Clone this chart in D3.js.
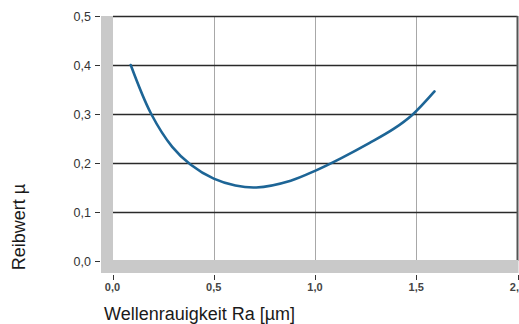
<!DOCTYPE html>
<html>
<head>
<meta charset="utf-8">
<script src="https://cdn.jsdelivr.net/npm/d3@7"></script>
<style>
  html, body { margin: 0; padding: 0; background: #fff; }
  svg { display: block; }
  text { font-family: "Liberation Sans", Arial, sans-serif; }
</style>
</head>
<body>
<script>
// Friction coefficient versus shaft roughness
const roughness = [0.09, 0.19, 0.295, 0.385, 0.5, 0.607, 0.71, 0.88, 1.0, 1.13, 1.27, 1.39, 1.48, 1.59];
const friction  = [0.40, 0.301, 0.233, 0.197, 0.168, 0.154, 0.150, 0.164, 0.184, 0.210, 0.241, 0.270, 0.298, 0.346];
const xTicks = [0, 0.5, 1.0, 1.5, 2.0];
const yTicks = [0, 0.1, 0.2, 0.3, 0.4, 0.5];
const xTitle = "Wellenrauigkeit Ra [µm]";
const yTitle = "Reibwert µ";

const W = 519, H = 324;
const svg = d3.select("body").append("svg").attr("width", W).attr("height", H);

const x = d3.scaleLinear().domain([0, 2]).range([112.5, 517.5]);
const y = d3.scaleLinear().domain([0, 0.5]).range([261, 16]);
const fmt = d => d3.format(".1f")(d).replace(".", ",");

const left = 101, bottom = 273, barW = 12, barH = 13;

// vertical grid lines
svg.append("g").selectAll("line").data(xTicks.filter(d => d > 0 && d < 2)).join("line")
  .attr("x1", d => Math.round(x(d)) + 0.5).attr("x2", d => Math.round(x(d)) + 0.5)
  .attr("y1", y(0.5)).attr("y2", y(0))
  .attr("stroke", "#a8a8a8").attr("stroke-width", 1);

// horizontal grid lines
svg.append("g").selectAll("line").data(yTicks.filter(d => d > 0)).join("line")
  .attr("x1", left + barW).attr("x2", x(2))
  .attr("y1", d => Math.round(y(d)) + 0.5).attr("y2", d => Math.round(y(d)) + 0.5)
  .attr("stroke", "#2a2a2a").attr("stroke-width", 1.3);

// right frame
svg.append("line")
  .attr("x1", x(2)).attr("x2", x(2))
  .attr("y1", y(0.5)).attr("y2", y(0))
  .attr("stroke", "#555").attr("stroke-width", 2);

// grey floor and wall
svg.append("rect").attr("x", left).attr("y", y(0.5)).attr("width", barW).attr("height", bottom - y(0.5))
  .attr("fill", "#c9c9c9");
svg.append("rect").attr("x", left).attr("y", bottom - barH).attr("width", x(2) - left + 1).attr("height", barH)
  .attr("fill", "#c9c9c9");

// y axis ticks and labels
const yg = svg.append("g");
yg.selectAll("line").data(yTicks).join("line")
  .attr("x1", 95).attr("x2", 100)
  .attr("y1", d => Math.round(y(d)) + 0.5).attr("y2", d => Math.round(y(d)) + 0.5)
  .attr("stroke", "#333").attr("stroke-width", 1);
yg.selectAll("text").data(yTicks).join("text")
  .attr("x", 91).attr("y", d => y(d) + 4.5)
  .attr("text-anchor", "end").attr("font-size", 12.5).attr("fill", "#333")
  .text(fmt);

// x axis ticks and labels
const xg = svg.append("g");
xg.selectAll("line").data(xTicks).join("line")
  .attr("x1", d => Math.round(x(d)) + 0.5).attr("x2", d => Math.round(x(d)) + 0.5)
  .attr("y1", 275).attr("y2", 280)
  .attr("stroke", "#333").attr("stroke-width", 1);
xg.selectAll("text").data(xTicks).join("text")
  .attr("x", d => x(d)).attr("y", 291)
  .attr("text-anchor", "middle").attr("font-size", 11).attr("font-weight", "bold").attr("fill", "#444")
  .text(fmt);

// axis titles
svg.append("text")
  .attr("x", 104).attr("y", 320)
  .attr("font-size", 18).attr("fill", "#1a1a1a")
  .text(xTitle);
svg.append("text")
  .attr("transform", "translate(25,227) rotate(-90)")
  .attr("text-anchor", "middle")
  .attr("font-size", 18).attr("fill", "#1a1a1a")
  .text(yTitle);

// friction curve
const pts = roughness.map((r, i) => [r, friction[i]]);
const line = d3.line().x(d => x(d[0])).y(d => y(d[1])).curve(d3.curveCatmullRom.alpha(0.5));
svg.append("path").datum(pts)
  .attr("d", line)
  .attr("fill", "none")
  .attr("stroke", "#1d6596")
  .attr("stroke-width", 2.6)
  .attr("stroke-linecap", "round");
</script>
</body>
</html>
